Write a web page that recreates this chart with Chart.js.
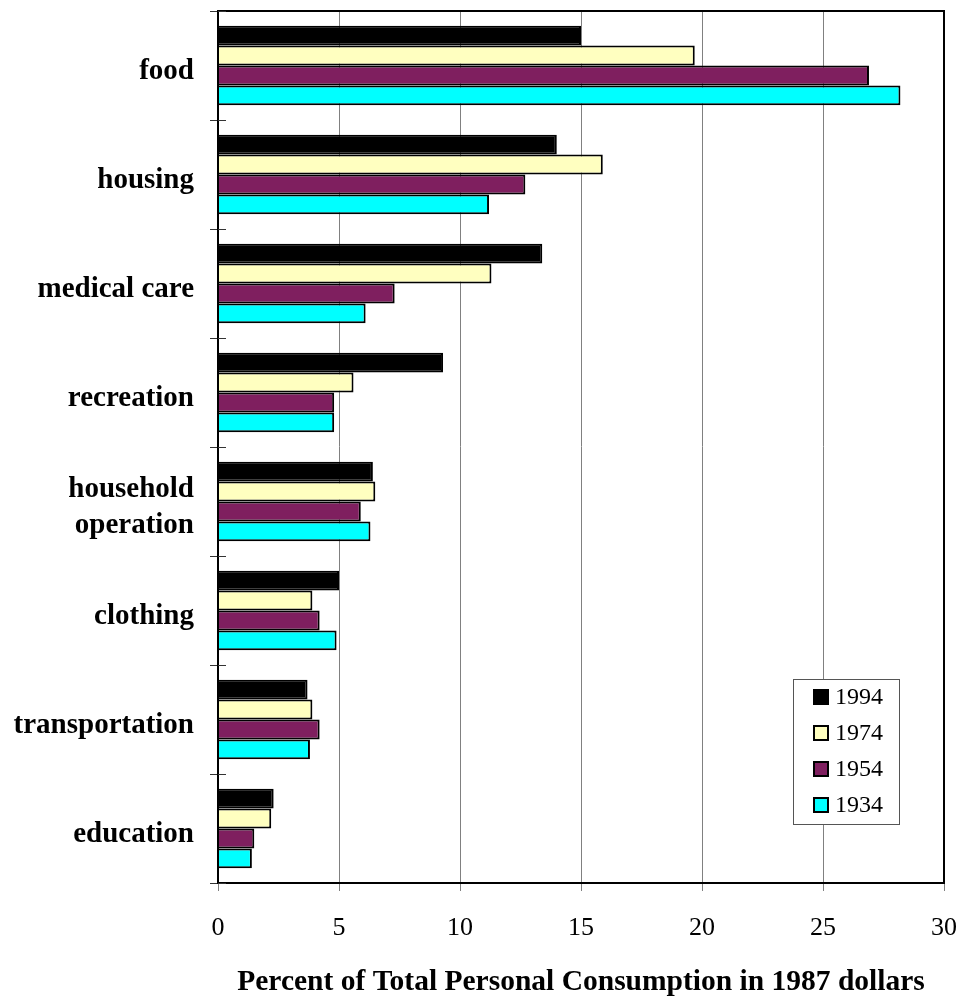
<!DOCTYPE html>
<html>
<head>
<meta charset="utf-8">
<script src="https://cdn.jsdelivr.net/npm/chart.js@4/dist/chart.umd.min.js"></script>
<style>
    html, body { margin: 0; padding: 0; background: #fff; }
    #wrap { width: 962px; height: 1000px; }
</style>
</head>
<body>
<div id="wrap"><canvas id="consumptionChart"></canvas></div>
<script>
const categories = ['food', 'housing', 'medical care', 'recreation', ['household', 'operation'], 'clothing', 'transportation', 'education'];
const years = ['1994', '1974', '1954', '1934'];
const values1994 = [15.0, 14.0, 13.4, 9.3, 6.4, 5.0, 3.7, 2.3];
const values1974 = [19.7, 15.9, 11.3, 5.6, 6.5, 3.9, 3.9, 2.2];
const values1954 = [26.9, 12.7, 7.3, 4.8, 5.9, 4.2, 4.2, 1.5];
const values1934 = [28.2, 11.2, 6.1, 4.8, 6.3, 4.9, 3.8, 1.4];
const xTicks = [0, 5, 10, 15, 20, 25, 30];
const colors = ['#000000', '#ffffc0', '#7f1f5f', '#00ffff'];

const serif = "'Liberation Serif', 'Times New Roman', serif";

// frame round the plot area plus the boxed legend in the lower right
const framePlugin = {
    id: 'frame',
    afterDatasetsDraw(chart) {
        const { ctx, chartArea } = chart;
        ctx.save();
        ctx.strokeStyle = '#000';
        ctx.lineWidth = 2;
        ctx.strokeRect(chartArea.left, chartArea.top, chartArea.right - chartArea.left, chartArea.bottom - chartArea.top);

        // small inward ticks on the category axis
        const yScale = chart.scales.y;
        ctx.lineWidth = 1;
        ctx.strokeStyle = '#333';
        for (let i = 0; i <= categories.length; i++) {
            const y = Math.round(yScale.top + (yScale.bottom - yScale.top) * i / categories.length) + 0.5;
            ctx.beginPath();
            ctx.moveTo(chartArea.left, y);
            ctx.lineTo(chartArea.left + 8, y);
            ctx.stroke();
        }

        // legend box
        const bx = 793, by = 679, bw = 106, bh = 145;
        ctx.fillStyle = '#fff';
        ctx.fillRect(bx, by, bw, bh);
        ctx.strokeStyle = '#555';
        ctx.lineWidth = 1;
        ctx.strokeRect(bx + 0.5, by + 0.5, bw, bh);
        ctx.font = '24px ' + serif;
        ctx.textBaseline = 'middle';
        chart.data.datasets.forEach((ds, i) => {
            const cy = by + 18 + i * 36;
            ctx.fillStyle = ds.backgroundColor;
            ctx.fillRect(bx + 21, cy - 7, 14, 14);
            ctx.strokeStyle = '#000';
            ctx.lineWidth = 2;
            ctx.strokeRect(bx + 21, cy - 7, 14, 14);
            ctx.fillStyle = '#000';
            ctx.fillText(ds.label, bx + 42, cy + 1);
        });
        ctx.restore();
    }
};

const datasets = [values1994, values1974, values1954, values1934].map((vals, i) => ({
    label: years[i],
    data: vals,
    backgroundColor: colors[i],
    borderColor: '#000',
    borderWidth: 2,
    borderSkipped: 'start',
    categoryPercentage: 0.73,
    barPercentage: 1.0
}));

new Chart(document.getElementById('consumptionChart'), {
    type: 'bar',
    data: { labels: categories, datasets: datasets },
    plugins: [framePlugin],
    options: {
        indexAxis: 'y',
        responsive: true,
        maintainAspectRatio: false,
        animation: false,
        layout: { padding: { top: 11, right: 18, left: 0, bottom: 0 } },
        plugins: {
            legend: { display: false },
            tooltip: { enabled: false }
        },
        scales: {
            x: {
                min: 0,
                max: 30,
                afterBuildTicks: (scale) => { scale.ticks = xTicks.map(v => ({ value: v })); },
                afterFit: (scale) => {
                    scale.height = 117;
                    scale.paddingLeft = 0;
                    scale.paddingRight = 0;
                },
                grid: { color: '#808080', lineWidth: 1, tickLength: 8, tickColor: '#808080' },
                border: { color: '#000', width: 2 },
                ticks: { color: '#000', padding: 22, font: { family: serif, size: 26 } },
                title: {
                    display: true,
                    text: 'Percent of Total Personal Consumption in 1987 dollars',
                    color: '#000',
                    padding: { top: 0, bottom: 0 },
                    font: { family: serif, size: 29.5, weight: 'bold' }
                }
            },
            y: {
                afterFit: (scale) => {
                    scale.width = 218;
                    scale.paddingTop = 0;
                    scale.paddingBottom = 0;
                },
                grid: { drawOnChartArea: false, tickLength: 8, tickColor: '#333' },
                border: { color: '#000', width: 2 },
                ticks: {
                    color: '#000',
                    padding: 16,
                    labelOffset: 6,
                    font: { family: serif, size: 29, weight: 'bold', lineHeight: 1.24 }
                }
            }
        }
    }
});
</script>
</body>
</html>
